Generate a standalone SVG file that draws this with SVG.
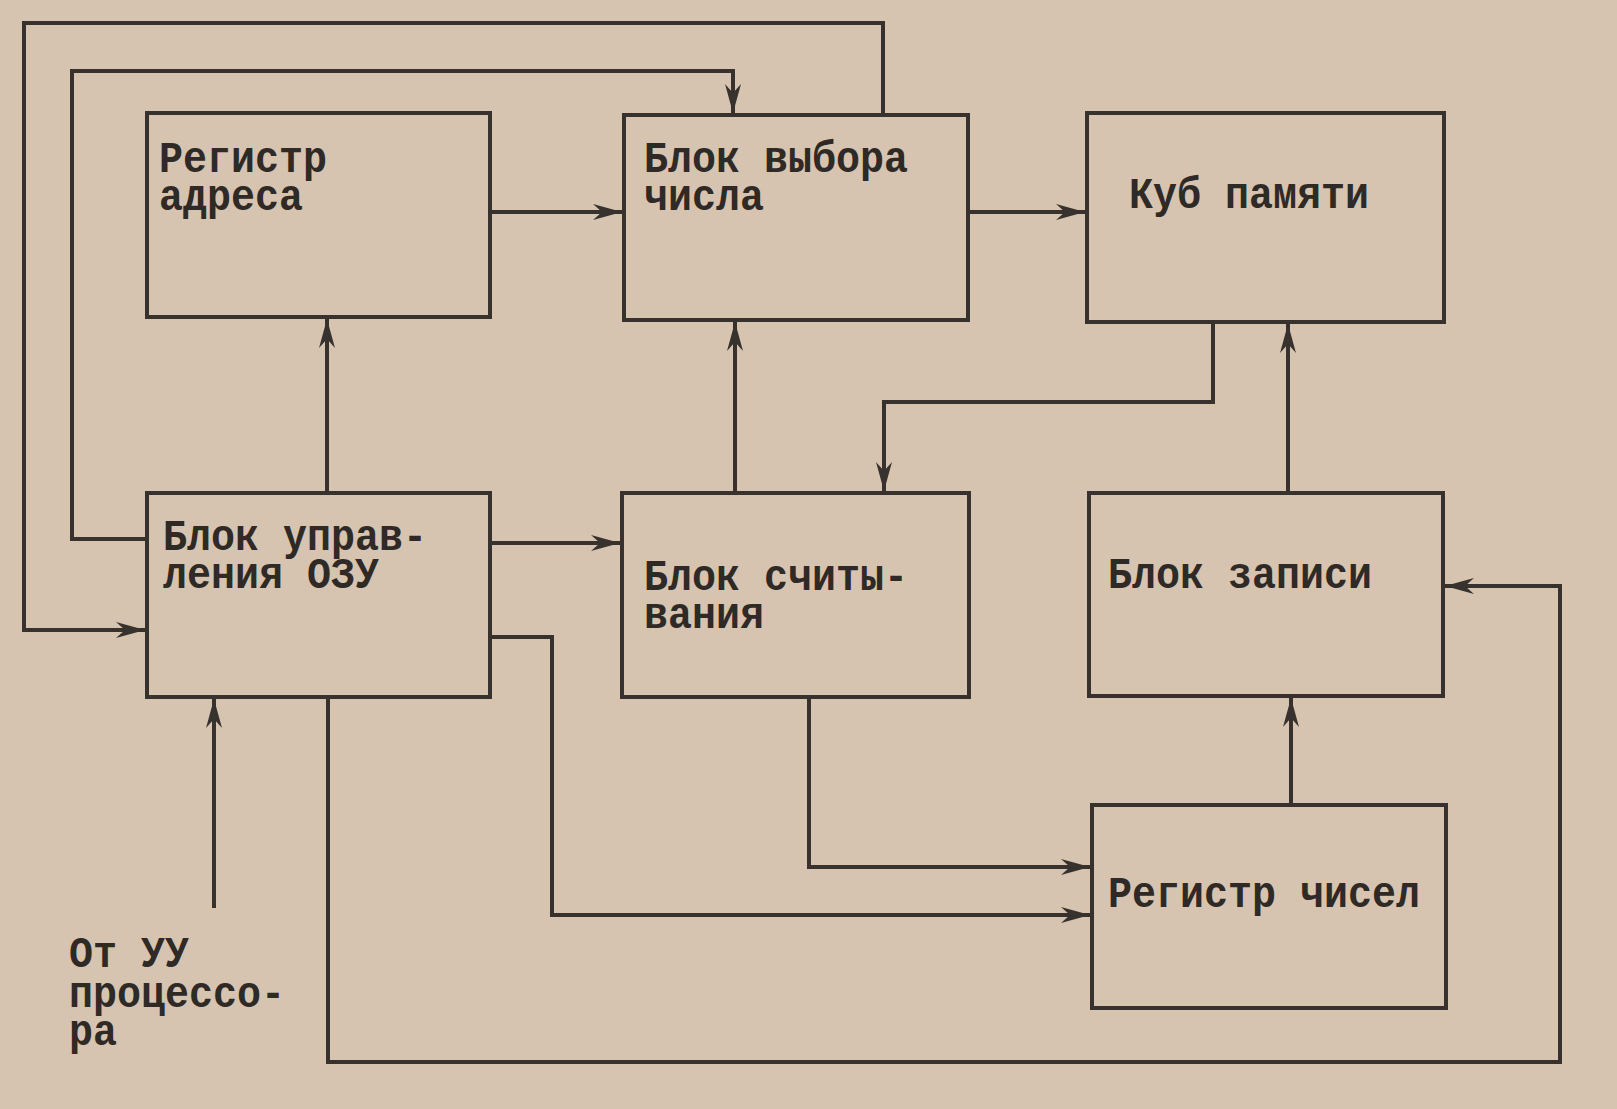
<svg xmlns="http://www.w3.org/2000/svg" width="1617" height="1109" viewBox="0 0 1617 1109">
<style>
.bg{fill:#d6c3b0}
.box{fill:none;stroke:#37322e;stroke-width:4}
.ln{fill:none;stroke:#37322e;stroke-width:4;stroke-linejoin:miter}
.arr{marker-end:url(#ah)}
.t{font-family:"Liberation Mono","DejaVu Sans Mono",monospace;font-weight:bold;font-size:40px;fill:#2f2a26}
</style>
<defs>
<marker id="ah" markerUnits="userSpaceOnUse" markerWidth="32" markerHeight="20" refX="29" refY="10" orient="auto">
<path d="M0,2 L29,10 L0,18 L9,10 Z" fill="#37322e"/>
</marker>
</defs>
<rect class="bg" x="0" y="0" width="1617" height="1109"/>

<g id="connectors">
<path class="ln arr" d="M490,212 H622"/>
<path class="ln arr" d="M968,212 H1085"/>
<path class="ln arr" d="M327,493 V319"/>
<path class="ln arr" d="M735,493 V322"/>
<path class="ln arr" d="M1213,322 V402 H884 V491"/>
<path class="ln arr" d="M1288,493 V324"/>
<path class="ln arr" d="M490,543 H620"/>
<path class="ln arr" d="M147,539 H72 V71 H733 V113"/>
<path class="ln arr" d="M883,115 V23 H24 V630 H145"/>
<path class="ln arr" d="M214,908 V699"/>
<path class="ln arr" d="M490,637 H552 V915 H1090"/>
<path class="ln arr" d="M809,697 V867 H1090"/>
<path class="ln arr" d="M1291,805 V698"/>
<path class="ln arr" d="M328,697 V1062 H1560 V586 H1445"/>
</g>

<g id="reg-addr">
<rect class="box" x="147" y="113" width="343" height="204"/>
<text class="t" transform="translate(159 172) scale(1 1.12)"><tspan x="0" y="0">Регистр</tspan><tspan x="0" y="34">адреса</tspan></text>
</g>
<g id="blok-vybora">
<rect class="box" x="624" y="115" width="344" height="205"/>
<text class="t" transform="translate(644 172) scale(1 1.12)"><tspan x="0" y="0">Блок выбора</tspan><tspan x="0" y="34">числа</tspan></text>
</g>
<g id="kub">
<rect class="box" x="1087" y="113" width="357" height="209"/>
<text class="t" transform="translate(1129 208) scale(1 1.12)"><tspan x="0" y="0">Куб памяти</tspan></text>
</g>
<g id="blok-upr">
<rect class="box" x="147" y="493" width="343" height="204"/>
<text class="t" transform="translate(163 550) scale(1 1.12)"><tspan x="0" y="0">Блок управ-</tspan><tspan x="0" y="34">ления ОЗУ</tspan></text>
</g>
<g id="blok-schit">
<rect class="box" x="622" y="493" width="347" height="204"/>
<text class="t" transform="translate(644 590) scale(1 1.12)"><tspan x="0" y="0">Блок считы-</tspan><tspan x="0" y="34">вания</tspan></text>
</g>
<g id="blok-zap">
<rect class="box" x="1089" y="493" width="354" height="203"/>
<text class="t" transform="translate(1108 588) scale(1 1.12)"><tspan x="0" y="0">Блок записи</tspan></text>
</g>
<g id="reg-chisel">
<rect class="box" x="1092" y="805" width="354" height="203"/>
<text class="t" transform="translate(1108 907) scale(1 1.12)"><tspan x="0" y="0">Регистр чисел</tspan></text>
</g>
<g id="ot-uu">
<text class="t" transform="translate(69 967) scale(1 1.12)"><tspan x="0" y="0">От УУ</tspan><tspan x="0" y="36">процессо-</tspan><tspan x="0" y="70">ра</tspan></text>
</g>
</svg>
